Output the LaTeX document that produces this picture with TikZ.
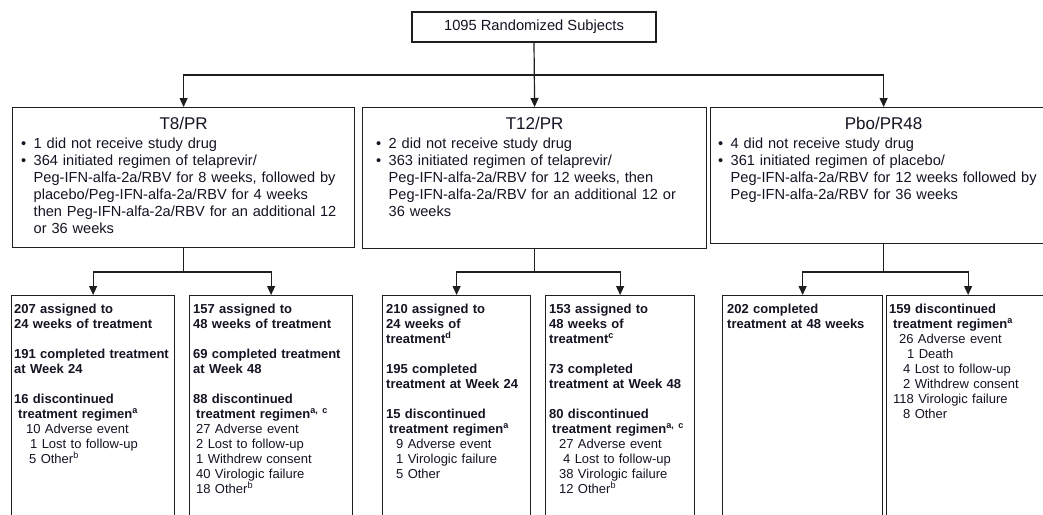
\documentclass[tikz,border=0pt]{standalone}
\usepackage{fontspec}
\setmainfont{Liberation Sans}
\usetikzlibrary{arrows.meta,positioning}
\definecolor{linec}{RGB}{30,30,30}
\definecolor{textc}{RGB}{20,20,35}
\newcommand\bul{\makebox[12.5pt][l]{\textbullet}}
\newcommand\bulgap{\hspace*{12.5pt}}
\newcommand\ind[1]{\hspace*{#1pt}}

\begin{document}
\begin{tikzpicture}[x=1pt,y=-1pt,
        flowbox/.style={draw=linec, line width=1.2pt, inner sep=0pt, anchor=north west},
        ttl/.style={anchor=base, inner sep=0pt, text=textc, font=\fontsize{17}{20}\selectfont},
        bullets/.style={anchor=base west, inner sep=0pt, text width=340pt, align=left,
                text=textc, font=\fontsize{14.6}{17}\selectfont},
        arm/.style={anchor=base west, inner sep=0pt, text width=175pt, align=left,
                text=textc, font=\fontsize{13}{15}\selectfont},
        arr/.style={-{Triangle[length=9pt,width=8pt]}, line width=1.2pt, draw=linec}]

    \path[use as bounding box, fill=white] (0,0) rectangle (1043,514);
    \clip (0,0) rectangle (1043,514);

    % randomised subjects
    \node[draw=linec, line width=1.2pt, minimum width=244pt, minimum height=30pt, inner sep=0pt,
          text=textc, font=\fontsize{14.7}{17}\selectfont] (rand) at (534,27) {1095 Randomized Subjects};

    % treatment arms
    \node[flowbox, minimum width=342pt, minimum height=140pt] (t8)  at (12,107)  {};
    \node[flowbox, minimum width=344pt, minimum height=141pt] (t12) at (362,107) {};
    \node[flowbox, minimum width=346pt, minimum height=136pt] (pbo) at (710,107) {};

    \node[ttl] (t8ttl)  at ([yshift=-22pt]t8.north)  {T8/PR};
    \node[ttl] (t12ttl) at ([yshift=-22pt]t12.north) {T12/PR};
    \node[ttl] (pbottl) at ([yshift=-22pt]pbo.north) {Pbo/PR48};

    \node[bullets] (t8txt) at ([shift={(9,41)}]t8.north west)
        {\bul 1 did not receive study drug\\
         \bul 364 initiated regimen of telaprevir/\\
         \bulgap Peg-IFN-alfa-2a/RBV for 8 weeks, followed by\\
         \bulgap placebo/Peg-IFN-alfa-2a/RBV for 4 weeks\\
         \bulgap then Peg-IFN-alfa-2a/RBV for an additional 12\\
         \bulgap or 36 weeks};
    \node[bullets] (t12txt) at ([shift={(14,41)}]t12.north west)
        {\bul 2 did not receive study drug\\
         \bul 363 initiated regimen of telaprevir/\\
         \bulgap Peg-IFN-alfa-2a/RBV for 12 weeks, then\\
         \bulgap Peg-IFN-alfa-2a/RBV for an additional 12 or\\
         \bulgap 36 weeks};
    \node[bullets] (pbotxt) at ([shift={(8,41)}]pbo.north west)
        {\bul 4 did not receive study drug\\
         \bul 361 initiated regimen of placebo/\\
         \bulgap Peg-IFN-alfa-2a/RBV for 12 weeks followed by\\
         \bulgap Peg-IFN-alfa-2a/RBV for 36 weeks};

    % duration groups
    \coordinate (lvl3) at (0,272);
    \node[flowbox, minimum width=163pt, minimum height=240pt] (t8a)  at (11,295)  {};
    \node[flowbox, minimum width=163pt, minimum height=240pt] (t8b)  at (189,295) {};
    \node[flowbox, minimum width=148pt, minimum height=240pt] (t12a) at (382,295) {};
    \node[flowbox, minimum width=149pt, minimum height=240pt] (t12b) at (545,295) {};
    \node[flowbox, minimum width=160pt, minimum height=240pt] (pboa) at (722,295) {};
    \node[flowbox, minimum width=163pt, minimum height=240pt] (pbob) at (886,295) {};

    \node[arm] (t8atxt) at ([shift={(3,18)}]t8a.north west)
        {{\bfseries 207 assigned to\\24 weeks of treatment\\[15pt]191 completed treatment\\at Week 24\\[15pt]%
          16 discontinued\\\ind{4}treatment regimen\textsuperscript{a}}\\
         \ind{12}10 Adverse event\\
         \ind{16}1 Lost to follow-up\\
         \ind{15}5 Other\textsuperscript{b}};
    \node[arm] (t8btxt) at ([shift={(4,18)}]t8b.north west)
        {{\bfseries 157 assigned to\\48 weeks of treatment\\[15pt]69 completed treatment\\at Week 48\\[15pt]%
          88 discontinued\\\ind{3}treatment regimen\textsuperscript{a, c}}\\
         \ind{3}27 Adverse event\\
         \ind{3}2 Lost to follow-up\\
         \ind{3}1 Withdrew consent\\
         \ind{3}40 Virologic failure\\
         \ind{3}18 Other\textsuperscript{b}};
    \node[arm] (t12atxt) at ([shift={(4,18)}]t12a.north west)
        {{\bfseries 210 assigned to\\24 weeks of\\treatment\textsuperscript{d}\\[15pt]195 completed\\treatment at Week 24\\[15pt]%
          15 discontinued\\\ind{3}treatment regimen\textsuperscript{a}}\\
         \ind{10}9 Adverse event\\
         \ind{10}1 Virologic failure\\
         \ind{10}5 Other};
    \node[arm] (t12btxt) at ([shift={(4,18)}]t12b.north west)
        {{\bfseries 153 assigned to\\48 weeks of\\treatment\textsuperscript{c}\\[15pt]73 completed\\treatment at Week 48\\[15pt]%
          80 discontinued\\\ind{3}treatment regimen\textsuperscript{a, c}}\\
         \ind{10}27 Adverse event\\
         \ind{14}4 Lost to follow-up\\
         \ind{10}38 Virologic failure\\
         \ind{10}12 Other\textsuperscript{b}};
    \node[arm] (pboatxt) at ([shift={(5,18)}]pboa.north west)
        {{\bfseries 202 completed\\treatment at 48 weeks}};
    \node[arm] (pbobtxt) at ([shift={(3,18)}]pbob.north west)
        {{\bfseries 159 discontinued\\\ind{4}treatment regimen\textsuperscript{a}}\\
         \ind{10}26 Adverse event\\
         \ind{18}1 Death\\
         \ind{14}4 Lost to follow-up\\
         \ind{14}2 Withdrew consent\\
         \ind{4}118 Virologic failure\\
         \ind{14}8 Other};

    % connectors
    \coordinate (split) at (534,75);
    \draw[arr] (rand.south) -- (t12.north);
    \draw[arr] (split) -| (t8.north);
    \draw[arr] (split) -| (pbo.north);

    \draw[arr] (t8.south) -- (t8.south |- lvl3) -| (t8a.north);
    \draw[arr] (t8.south |- lvl3) -| (t8b.north);
    \draw[arr] (t12.south) -- (t12.south |- lvl3) -| (t12a.north);
    \draw[arr] (t12.south |- lvl3) -| (t12b.north);
    \draw[arr] (pbo.south) -- (pbo.south |- lvl3) -| (pboa.north);
    \draw[arr] (pbo.south |- lvl3) -| (pbob.north);
\end{tikzpicture}
\end{document}
